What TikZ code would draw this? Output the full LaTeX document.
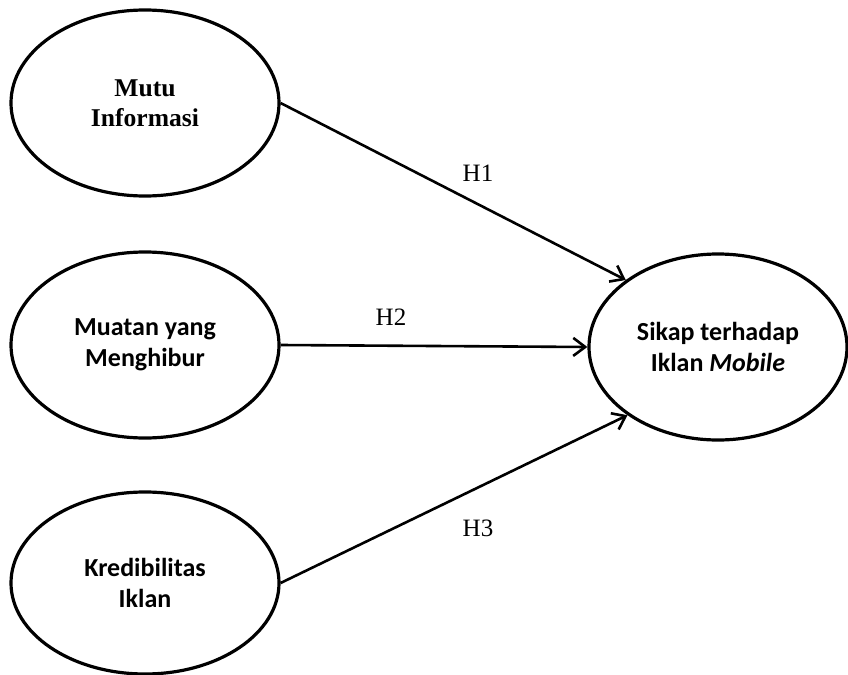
\documentclass[tikz,border=0pt]{standalone}
\usepackage{fontspec}
\setmainfont{Liberation Serif}
\newfontfamily\calibri{Carlito}
\usepackage{tikz}
\usetikzlibrary{shapes.geometric, arrows.meta}

\begin{document}
\begin{tikzpicture}[
    x=0.5pt, y=-0.5pt,
    konstruk/.style={ellipse, draw, line width=1.6pt, minimum width=134pt, minimum height=93pt, align=center, inner sep=0pt},
    serifbox/.style={konstruk, font=\fontsize{12.8}{15}\selectfont\bfseries},
    sansbox/.style={konstruk, font=\fontsize{13}{15.5}\selectfont\calibri\bfseries},
    arrow/.style={-{Straight Barb[length=6pt, width=9pt]}, line width=1.3pt},
    hlabel/.style={font=\fontsize{12.5}{15}\selectfont}
]
\useasboundingbox (0,0) rectangle (848,675);

% Variabel
\node[serifbox] (mutu) at (145,103) {Mutu\\Informasi};
\node[sansbox] (muatan) at (145,345) {Muatan yang\\Menghibur};
\node[sansbox, minimum height=91pt] (kredibilitas) at (145,583) {Kredibilitas\\Iklan};
\node[sansbox, minimum width=129pt] (sikap) at (718,347) {Sikap terhadap\\Iklan \textit{Mobile}};

% Hipotesis
\draw[arrow] (mutu.east) -- (sikap.144);
\draw[arrow] (muatan.east) -- (sikap.west);
\draw[arrow] (kredibilitas.east) -- (sikap.217);

\node[hlabel] (h1) at (478,173) {H1};
\node[hlabel] (h2) at (391,317) {H2};
\node[hlabel] (h3) at (478,528) {H3};

\end{tikzpicture}
\end{document}
